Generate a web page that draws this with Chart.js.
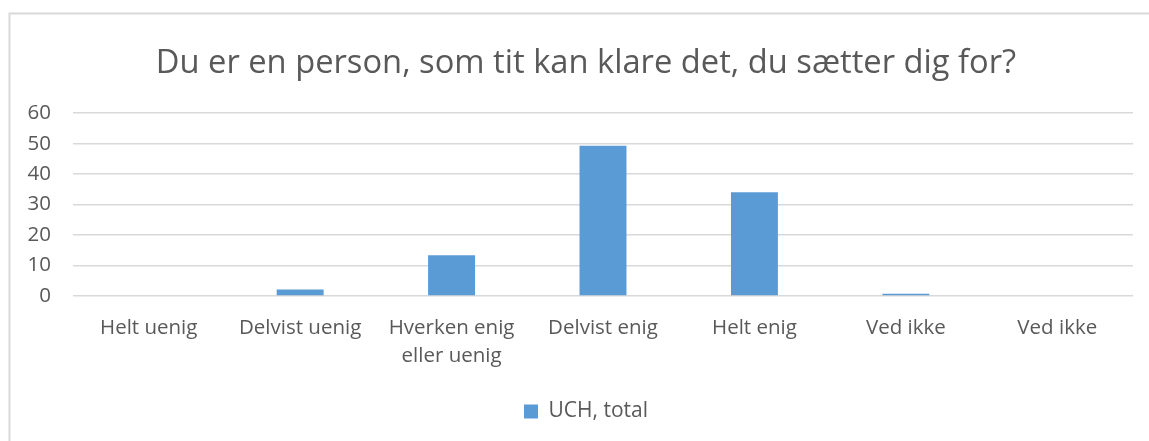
<!DOCTYPE html>
<html>
<head>
<meta charset="utf-8">
<script src="https://cdn.jsdelivr.net/npm/chart.js@4/dist/chart.umd.min.js"></script>
<style>
  html, body { margin: 0; padding: 0; background: #fff; }
  #wrap { position: relative; width: 1149px; height: 441px; }
</style>
</head>
<body>
<div id="wrap"><canvas id="chart" width="1149" height="441"></canvas></div>
<script>
const categories = ['Helt uenig', 'Delvist uenig', ['Hverken enig', 'eller uenig'], 'Delvist enig', 'Helt enig', 'Ved ikke', 'Ved ikke'];
const uchTotal = [0, 2.1, 13.4, 49.3, 34.1, 0.7, 0];
const yTicks = [0, 10, 20, 30, 40, 50, 60];

const textColor = '#595959';
const fontFamily = '"Open Sans", Lato, sans-serif';

// light frame round the whole chart (left + top edges show in the picture)
const framePlugin = {
  id: 'frame',
  beforeDraw(chart) {
    const ctx = chart.ctx;
    ctx.save();
    ctx.strokeStyle = '#d9d9d9';
    ctx.lineWidth = 2;
    ctx.strokeRect(9.5, 13.5, 1160, 460);
    ctx.restore();
  },
  // y labels sit in the left padding; widen the label clip box to the canvas edge
  afterLayout(chart) {
    const y = chart.scales.y;
    y.left = 0;
    y.width = y.right;
  }
};

const ctx = document.getElementById('chart').getContext('2d');
new Chart(ctx, {
  type: 'bar',
  data: {
    labels: categories,
    datasets: [{
      label: 'UCH, total',
      data: uchTotal,
      backgroundColor: '#5b9bd5',
      borderWidth: 0,
      categoryPercentage: 1,
      barPercentage: 0.31
    }]
  },
  options: {
    responsive: false,
    animation: false,
    // frame is wider than the picture, so title/legend sit a bit right of centre
    layout: { padding: { left: 39, right: 16, top: 13, bottom: 9 } },
    plugins: {
      title: {
        display: true,
        text: 'Du er en person, som tit kan klare det, du sætter dig for?',
        color: textColor,
        font: { family: fontFamily, size: 32.7, weight: 'normal' },
        padding: { top: 31, bottom: 30 }
      },
      legend: {
        position: 'bottom',
        labels: {
          color: textColor,
          font: { family: fontFamily, size: 21 },
          boxWidth: 14,
          boxHeight: 14,
          padding: 10
        }
      },
      tooltip: { enabled: false }
    },
    scales: {
      x: {
        grid: { display: false },
        border: { display: false },
        ticks: {
          color: textColor,
          font: { family: fontFamily, size: 20.5, lineHeight: 1.37 },
          padding: 10,
          maxRotation: 0,
          autoSkip: false
        },
        afterFit(scale) { scale.height = 95; }
      },
      y: {
        min: 0,
        max: 60,
        afterBuildTicks(scale) { scale.ticks = yTicks.map(v => ({ value: v })); },
        grid: { color: '#d9d9d9', lineWidth: 1.5, drawTicks: false },
        border: { display: false },
        ticks: {
          color: textColor,
          font: { family: fontFamily, size: 20.5 },
          padding: 22
        },
        afterFit(scale) { scale.width = 34; }
      }
    }
  },
  plugins: [framePlugin]
});
</script>
</body>
</html>
